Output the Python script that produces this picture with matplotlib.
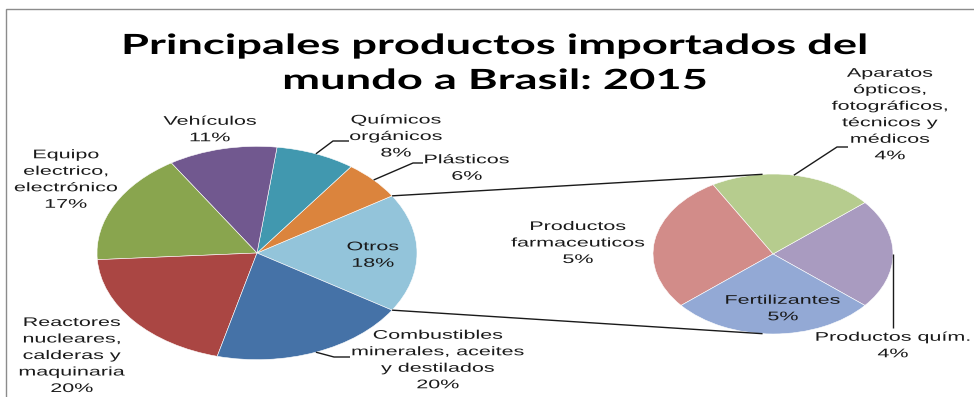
import matplotlib
matplotlib.use("Agg")
import matplotlib.pyplot as plt
from matplotlib.patheffects import AbstractPathEffect
from matplotlib.transforms import Affine2D
from matplotlib.patches import Rectangle
import numpy as np

# ---- data -------------------------------------------------------------
main_labels = ["Otros", "Plásticos", "Químicos\norgánicos", "Vehículos",
               "Equipo\nelectrico,\nelectrónico",
               "Reactores\nnucleares,\ncalderas y\nmaquinaria",
               "Combustibles\nminerales, aceites\ny destilados"]
main_values = [18, 6, 8, 11, 17, 20, 20]
main_colors = ["#93C4DA", "#DB843D", "#4198AF", "#71588F", "#89A54E",
               "#AA4643", "#4572A7"]

sub_labels = ["Productos quím.", "Aparatos\nópticos,\nfotográficos,\ntécnicos y\nmédicos",
              "Productos\nfarmaceuticos", "Fertilizantes"]
sub_values = [4, 4, 5, 5]
sub_colors = ["#A99BC0", "#B6CC8E", "#D28C89", "#93A9D5"]

title_lines = ["Principales productos importados del", "mundo a Brasil: 2015"]

# ---- canvas -----------------------------------------------------------
W, H = 974, 397
K = 1.5  # vertical squash of the pies (horizontal stretch of the chart)


class HStretch(AbstractPathEffect):
    """Widen each rendered text line about its own centre."""

    def __init__(self, sx):
        super().__init__()
        self._sx = sx

    def draw_path(self, renderer, gc, tpath, affine, rgbFace=None):
        ext = tpath.get_extents(affine)
        cx = 0.5 * (ext.x0 + ext.x1)
        st = affine + Affine2D().translate(-cx, 0).scale(self._sx, 1).translate(cx, 0)
        renderer.draw_path(gc, tpath, st, rgbFace)


def Y(py):
    return (H - py) * K


fig = plt.figure(figsize=(W / 100, H / 100), dpi=100)
fig.patch.set_facecolor("white")
ax = fig.add_axes([0, 0, 1, 1])

# frame of the chart area
fig.add_artist(Rectangle((6 / W, -0.1), 1.2, (H - 9) / H + 0.1,
                         transform=fig.transFigure, fill=False,
                         edgecolor="#8c8c8c", linewidth=1.0))

main_c = (257, Y(253))
main_r = 160
sub_c = (773, Y(254))
sub_r = 120

main_start = -main_values[0] / sum(main_values) * 180
wedges, _ = ax.pie(main_values, colors=main_colors, startangle=main_start,
                   counterclock=True, center=main_c, radius=main_r,
                   wedgeprops=dict(edgecolor="white", linewidth=0.4))

sub_start = -sub_values[0] / sum(sub_values) * 180
swedges, _ = ax.pie(sub_values, colors=sub_colors, startangle=sub_start,
                    counterclock=True, center=sub_c, radius=sub_r,
                    wedgeprops=dict(edgecolor="white", linewidth=0.4))

ax.set_aspect("auto")
ax.set_xlim(0, W)
ax.set_ylim(0, H * K)
ax.axis("off")


def rim(center, r, ang):
    a = np.deg2rad(ang)
    return center[0] + r * np.cos(a), center[1] + r * np.sin(a)


def mid(w):
    return 0.5 * (w.theta1 + w.theta2)


line_kw = dict(color="#1a1a1a", linewidth=1.0, solid_capstyle="butt")

# connector lines from the "Otros" slice to the secondary pie
o = wedges[0]
p_top = rim(main_c, main_r, o.theta2)
p_bot = rim(main_c, main_r, o.theta1)
q_top = rim(sub_c, sub_r, 95)
q_bot = rim(sub_c, sub_r, 265)
ax.plot([p_top[0], q_top[0]], [p_top[1], q_top[1]], **line_kw)
ax.plot([p_bot[0], q_bot[0]], [p_bot[1], q_bot[1]], **line_kw)

# leader lines
def leader(w, center, r, pts):
    x0, y0 = rim(center, r, mid(w))
    xs = [x0] + [p[0] for p in pts]
    ys = [y0] + [Y(p[1]) for p in pts]
    ax.plot(xs, ys, **line_kw)


leader(wedges[2], main_c, main_r, [(333, 141), (349, 141)])
leader(wedges[1], main_c, main_r, [(413, 163), (423, 163)])
leader(wedges[6], main_c, main_r, [(334, 357), (350, 357)])
leader(swedges[1], sub_c, sub_r, [(837, 147), (848, 147)])
leader(swedges[0], sub_c, sub_r, [(893, 328)])

# ---- labels -----------------------------------------------------------
lab_kw = dict(fontsize=9, family=["Liberation Sans", "DejaVu Sans"],
              color="#1a1a1a", ha="center", va="center", linespacing=1.5,
              path_effects=[HStretch(1.72)])

main_pos = [(373, 255.5), (467, 168.5), (396, 137), (210, 130),
            (66, 180), (72, 356), (438, 360.5)]
for lab, val, (x, y) in zip(main_labels, main_values, main_pos):
    ax.text(x, Y(y), f"{lab}\n{val}%", **lab_kw)

sub_pos = [(893, 346), (890, 115), (578, 243.5), (783, 309)]
for lab, val, (x, y) in zip(sub_labels, sub_values, sub_pos):
    ax.text(x, Y(y), f"{lab}\n{val}%", **lab_kw)

# ---- title ------------------------------------------------------------
t_kw = dict(fontsize=20, family=["Lato", "DejaVu Sans"], fontweight="bold",
            color="black", ha="center", va="baseline",
            path_effects=[HStretch(1.63)])
ax.text(495, Y(54), title_lines[0], **t_kw)
ax.text(495, Y(89), title_lines[1], **t_kw)

fig.savefig("out.png", dpi=100, facecolor="white")
